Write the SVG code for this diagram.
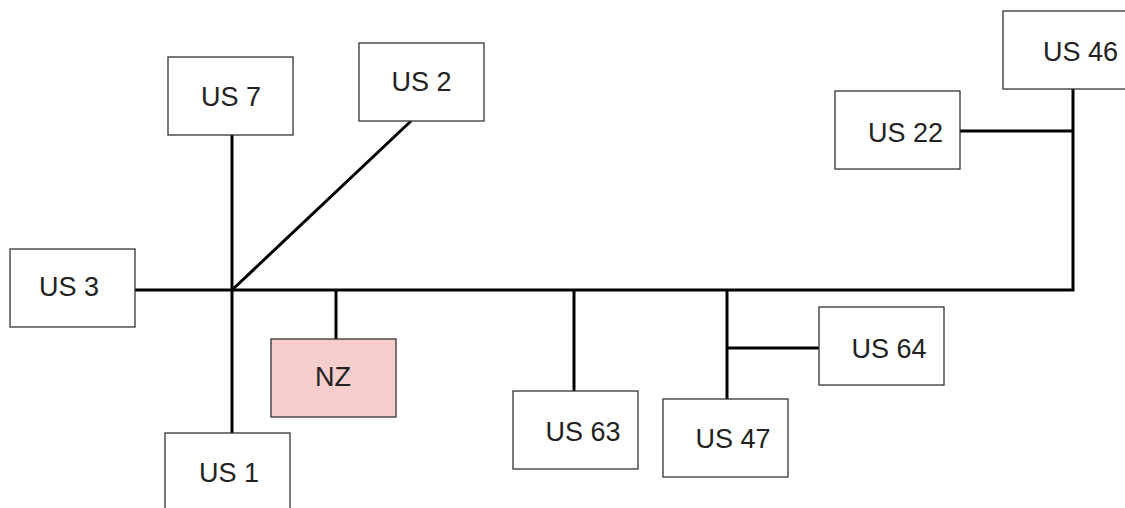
<svg xmlns="http://www.w3.org/2000/svg" width="1125" height="508" viewBox="0 0 1125 508">
<style>
.box{fill:#ffffff;stroke:#333333;stroke-width:1.3}
.nz{fill:#f8cecc}
.lbl{font-family:"Liberation Sans",Arial,sans-serif;font-size:27px;fill:#222222;text-anchor:middle}
.con{stroke:#000000;stroke-width:3;fill:none}
</style>
<rect width="1125" height="508" fill="#ffffff"/>
<g id="connectors">
<path class="con" d="M135 290 H1073 V89"/>
<path class="con" d="M960 131 H1073"/>
<path class="con" d="M232 135 V433"/>
<path class="con" d="M232 290 L411 121"/>
<path class="con" d="M336 290 V339"/>
<path class="con" d="M574 290 V391"/>
<path class="con" d="M727 290 V399"/>
<path class="con" d="M727 348 H819"/>
</g>
<g id="us7"><rect class="box" x="168" y="57" width="125" height="78"/><text class="lbl" x="231" y="106">US 7</text></g>
<g id="us2"><rect class="box" x="359" y="43" width="125" height="78"/><text class="lbl" x="421.5" y="91">US 2</text></g>
<g id="us3"><rect class="box" x="10" y="249" width="125" height="78"/><text class="lbl" x="69" y="296">US 3</text></g>
<g id="us1"><rect class="box" x="165" y="433" width="125" height="78"/><text class="lbl" x="229" y="482">US 1</text></g>
<g id="nz"><rect class="box nz" x="271" y="339" width="125" height="78"/><text class="lbl" x="333" y="386">NZ</text></g>
<g id="us63"><rect class="box" x="513" y="391" width="125" height="78"/><text class="lbl" x="583" y="441">US 63</text></g>
<g id="us47"><rect class="box" x="663" y="399" width="125" height="78"/><text class="lbl" x="733" y="448">US 47</text></g>
<g id="us64"><rect class="box" x="819" y="307" width="125" height="78"/><text class="lbl" x="889" y="358">US 64</text></g>
<g id="us22"><rect class="box" x="835" y="91" width="125" height="78"/><text class="lbl" x="905.5" y="142">US 22</text></g>
<g id="us46"><rect class="box" x="1003" y="11" width="125" height="78"/><text class="lbl" x="1080.5" y="61">US 46</text></g>
</svg>
